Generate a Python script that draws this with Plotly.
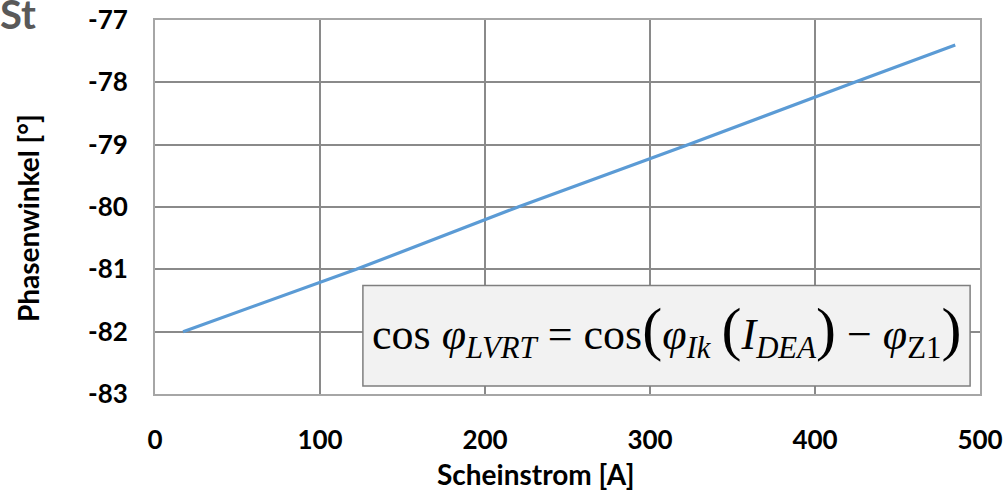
import plotly.graph_objects as go

# Data
strom = [17, 122, 220, 323, 424, 485]
winkel = [-82.0, -81.0, -80.0, -79.0, -78.0, -77.4]

x_ticks = [0, 100, 200, 300, 400, 500]
y_ticks = [-83, -82, -81, -80, -79, -78, -77]
y_ticktext = ["-83", "-82", "-81", "-80", "-79", "-78", "-77"]

W, H = 1007, 491
L, R, T, B = 155, 27, 20, 97
pw, ph = W - L - R, H - T - B

fig = go.Figure()
fig.add_trace(go.Scatter(x=strom, y=winkel, mode="lines",
                         line=dict(color="#5b9bd5", width=3.2), showlegend=False))

tickfont = dict(family="Lato", size=26, color="black", weight="bold")
fig.update_xaxes(range=[0, 500], tickvals=x_ticks, showgrid=True, gridcolor="#8a8a8a",
                 gridwidth=2, showline=True, linecolor="#a6a6a6", linewidth=2, mirror=True,
                 zeroline=False, tickfont=tickfont, ticks="", ticklabelstandoff=22,
                 automargin=False)
fig.update_yaxes(range=[-83, -77], tickvals=y_ticks, ticktext=y_ticktext, showgrid=True,
                 gridcolor="#8a8a8a", gridwidth=2, showline=True, linecolor="#a6a6a6",
                 linewidth=2, mirror=True, zeroline=False, tickfont=tickfont, ticks="",
                 ticklabelstandoff=20, automargin=False)

# formula box
fig.add_shape(type="rect", xref="x", yref="y", x0=126, x1=494, y0=-82.87, y1=-81.26,
              fillcolor="#f2f2f2", line=dict(color="#7f7f7f", width=1.5), layer="above")

big = '<span style="font-size:60px">'
formula = ("cos <i>φ</i><sub><i>LVRT</i></sub> = cos" + big + "(</span><i>φ</i><sub><i>Ik</i></sub> "
           + big + "(</span><i>I</i><sub><i>DEA</i></sub>" + big + ")</span> − <i>φ</i><sub>Z1</sub>"
           + big + ")</span>")
fig.add_annotation(x=310, y=-81.98, xref="x", yref="y", text=formula, showarrow=False,
                   font=dict(family="Liberation Serif", size=44, color="black"),
                   xanchor="center", yanchor="middle")

# axis titles
fig.add_annotation(x=(536 - L) / pw, y=(H - B - 474) / ph, xref="paper", yref="paper",
                   text="Scheinstrom [A]", showarrow=False,
                   font=dict(family="Lato", size=28, color="black", weight="bold"),
                   xanchor="center", yanchor="middle")
fig.add_annotation(x=(28 - L) / pw, y=(H - B - 218) / ph, xref="paper", yref="paper",
                   text="Phasenwinkel [°]", showarrow=False, textangle=-90,
                   font=dict(family="Lato", size=28, color="black", weight="bold"),
                   xanchor="center", yanchor="middle")
# cropped title fragment
fig.add_annotation(x=(-2 - L) / pw, y=(H - B + 12) / ph, xref="paper", yref="paper",
                   text="St", showarrow=False,
                   font=dict(family="Lato", size=40, color="#595959", weight="bold"),
                   xanchor="left", yanchor="top")

fig.update_layout(width=W, height=H, margin=dict(l=L, r=R, t=T, b=B, autoexpand=False),
                  plot_bgcolor="white", paper_bgcolor="white")

fig.write_html("out.html", config={"displayModeBar": False},
               post_script="document.body.style.margin='0';")
